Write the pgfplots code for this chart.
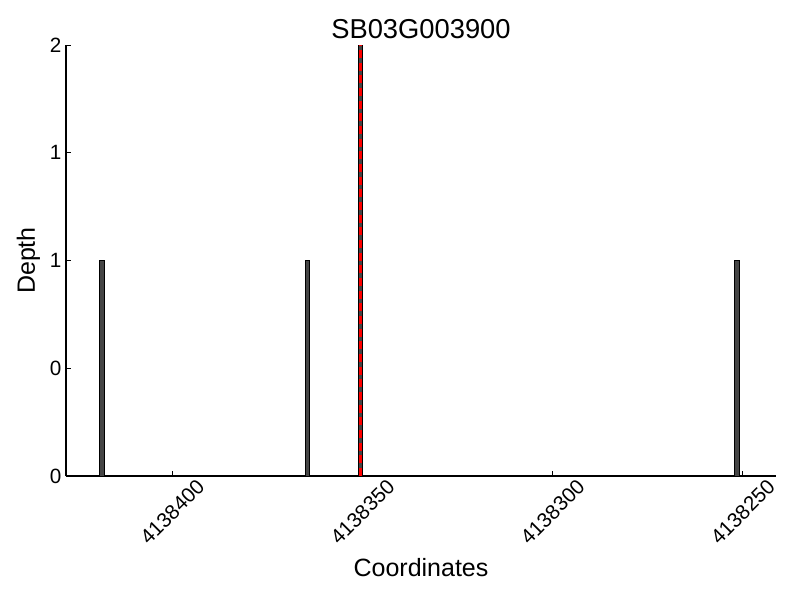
\documentclass[border=0pt]{standalone}
\usepackage{pgfplots}
\pgfplotsset{compat=1.18}
\usepackage{fontspec}
\setmainfont{Liberation Sans}
\begin{document}
\begin{tikzpicture}
\path[use as bounding box] (-49.5pt,-93pt) rectangle (550.5pt,357pt);
\begin{axis}[
  scale only axis,
  width=532.5pt, height=323.25pt,
  x dir=reverse,
  xmin=241.25, xmax=427.95,
  ymin=0, ymax=2,
  axis x line*=bottom, axis y line*=left,
  axis line style={line width=0.9pt, -},
  tick align=inside,
  major tick length=4pt,
  tick style={black, line width=0.6pt},
  xtick={400,350,300,250},
  % x values are offsets from 4138000
  xticklabels={4138400,4138350,4138300,4138250},
  ytick={0,0.5,1,1.5,2},
  yticklabels={0,0,1,1,2},
  ticklabel style={font=\fontsize{15.5pt}{18pt}\selectfont},
  xticklabel style={rotate=45, anchor=center},
  xticklabel shift=27pt,
  title={SB03G003900},
  title style={font=\fontsize{20.5pt}{24pt}\selectfont, at={(0.5,1)}, anchor=base, yshift=-0.75pt},
  xlabel={Coordinates},
  xlabel style={font=\fontsize{18.75pt}{22pt}\selectfont, at={(axis description cs:0.5,-0.2343)}, anchor=base},
  ylabel={Depth},
  ylabel style={font=\fontsize{18.75pt}{22pt}\selectfont, at={(axis description cs:-0.0437,0.5)}, anchor=base},
  clip=false,
]
\addplot[ybar, bar width=1.2, fill=black!73, draw=black, line width=0.75pt] coordinates {
  (418.5,1) (364.5,1) (350.5,2) (251.5,1)
};
\addplot[red, line width=2.2pt, dash pattern=on 6pt off 3.5pt] coordinates {(350.5,0) (350.5,2)};
\end{axis}
\end{tikzpicture}
\end{document}
